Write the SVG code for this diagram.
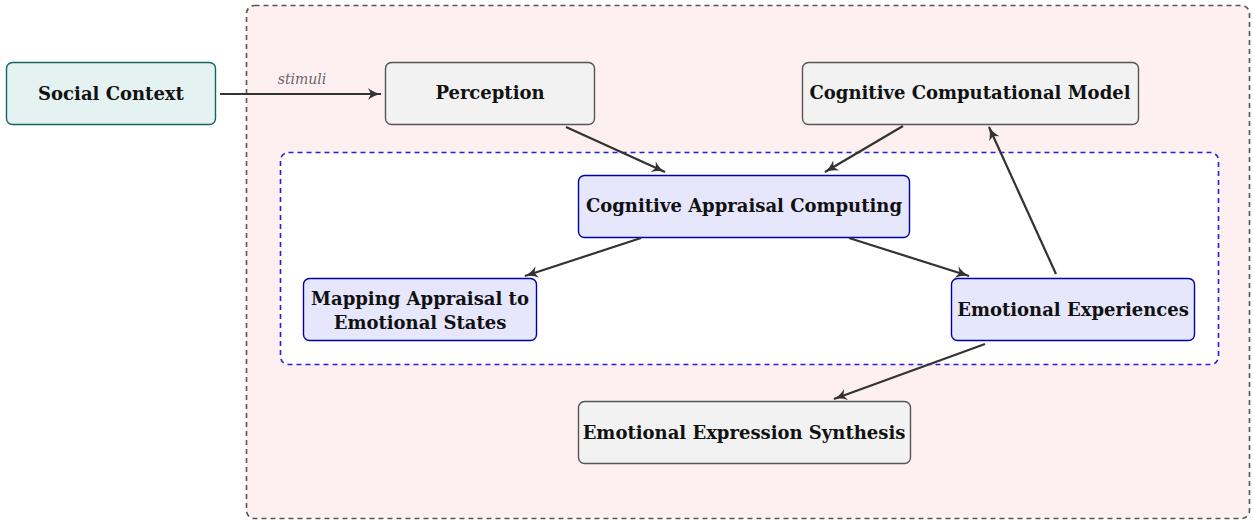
<svg xmlns="http://www.w3.org/2000/svg" width="1253" height="520" viewBox="0 0 1253 520">
<defs>
<marker id="ah" viewBox="0 0 14 12" refX="13" refY="6" markerWidth="14" markerHeight="12" markerUnits="userSpaceOnUse" orient="auto">
<path d="M0,0 Q6,5 14,6 Q6,7 0,12 L3,6 Z" fill="#333"/>
</marker>
</defs>
<style>
.t{font-family:"DejaVu Serif","Liberation Serif",serif;font-weight:bold;font-size:18px;fill:#111;text-anchor:middle}
.gray{fill:#f2f2f2;stroke:#555;stroke-width:1.4}
.blue{fill:#e6e6fc;stroke:#0000aa;stroke-width:1.4}
.c{stroke:#333;stroke-width:2.2;fill:none;marker-end:url(#ah)}
</style>
<g id="outer">
<rect x="246.5" y="5.5" width="1003" height="513" rx="8" fill="#fef0f0" stroke="#555" stroke-width="1.6" stroke-dasharray="5,4"/>
</g>
<g id="inner">
<rect x="280.5" y="152.5" width="938" height="212" rx="8" fill="#ffffff" stroke="#2222dd" stroke-width="1.6" stroke-dasharray="5,4"/>
</g>
<g id="social">
<rect x="6.5" y="62.5" width="209" height="62" rx="6" fill="#e5f2f2" stroke="#106666" stroke-width="1.4"/>
<text class="t" x="111" y="100">Social Context</text>
</g>
<g id="perception">
<rect class="gray" x="385.5" y="62.5" width="209" height="62" rx="6"/>
<text class="t" x="490" y="99">Perception</text>
</g>
<g id="ccm">
<rect class="gray" x="802.5" y="62.5" width="336" height="62" rx="6"/>
<text class="t" x="970" y="99">Cognitive Computational Model</text>
</g>
<g id="cac">
<rect class="blue" x="578.5" y="175.5" width="331" height="62" rx="6"/>
<text class="t" x="744" y="212">Cognitive Appraisal Computing</text>
</g>
<g id="mapping">
<rect class="blue" x="303.5" y="278.5" width="233" height="62" rx="6"/>
<text class="t" x="420" y="305">Mapping Appraisal to</text>
<text class="t" x="420" y="329">Emotional States</text>
</g>
<g id="ee">
<rect class="blue" x="951.5" y="278.5" width="243" height="62" rx="6"/>
<text class="t" x="1073" y="316">Emotional Experiences</text>
</g>
<g id="ees">
<rect class="gray" x="578.5" y="401.5" width="332" height="62" rx="6"/>
<text class="t" x="744" y="439">Emotional Expression Synthesis</text>
</g>
<g id="connectors">
<line class="c" x1="220" y1="94" x2="381" y2="94"/>
<text x="302" y="84" font-family="DejaVu Serif,Liberation Serif,serif" font-style="italic" font-size="14" fill="#666" text-anchor="middle">stimuli</text>
<line class="c" x1="566" y1="127" x2="665" y2="172"/>
<line class="c" x1="903" y1="126" x2="825" y2="172"/>
<line class="c" x1="641" y1="238" x2="525" y2="276"/>
<line class="c" x1="849" y1="238" x2="969" y2="276"/>
<line class="c" x1="1056" y1="274" x2="989" y2="127"/>
<line class="c" x1="985" y1="344" x2="834" y2="399"/>
</g>
</svg>
